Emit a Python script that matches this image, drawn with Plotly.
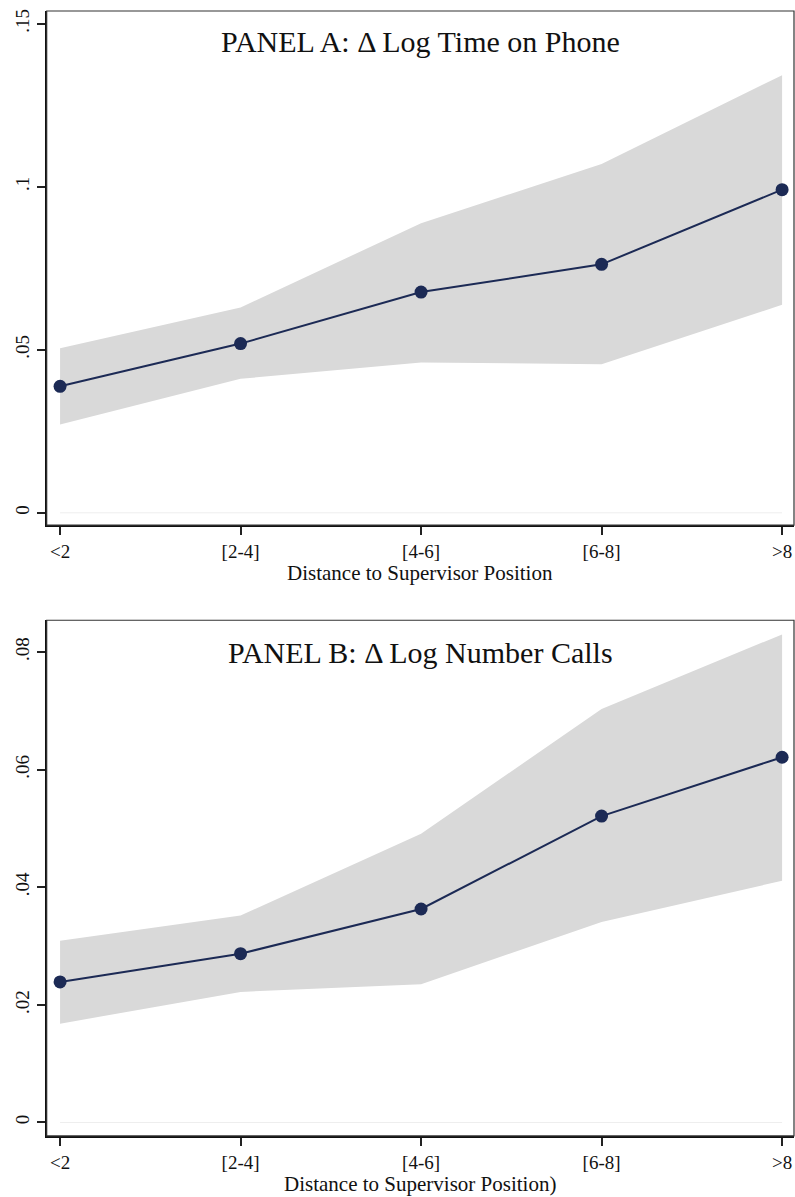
import plotly.graph_objects as go

categories = ["<2", "[2-4]", "[4-6]", "[6-8]", ">8"]

# Panel A: Delta log time on phone
a_est = [0.0388, 0.0519, 0.0677, 0.0762, 0.0991]
a_hi = [0.0505, 0.0630, 0.0888, 0.1070, 0.1342]
a_lo = [0.0271, 0.0411, 0.0461, 0.0456, 0.0638]
a_ticks = [0, 0.05, 0.1, 0.15]
a_ticktext = ["0", ".05", ".1", ".15"]

# Panel B: Delta log number calls
b_est = [0.0239, 0.0287, 0.0363, 0.0521, 0.0621]
b_hi = [0.0309, 0.0352, 0.0491, 0.0703, 0.0830]
b_lo = [0.0168, 0.0222, 0.0235, 0.0341, 0.0411]
b_ticks = [0, 0.02, 0.04, 0.06, 0.08]
b_ticktext = ["0", ".02", ".04", ".06", ".08"]

W, H = 795, 1197
FONT = "Liberation Serif"
NAVY = "#1c2a55"
BAND = "#d9d9d9"
x_idx = list(range(len(categories)))

fig = go.Figure()

def add_panel(est, hi, lo, xa, ya):
    fig.add_trace(go.Scatter(x=x_idx, y=hi, mode="lines", line=dict(width=0, color=BAND),
                             xaxis=xa, yaxis=ya, showlegend=False, hoverinfo="skip"))
    fig.add_trace(go.Scatter(x=x_idx, y=lo, mode="lines", line=dict(width=0, color=BAND),
                             fill="tonexty", fillcolor=BAND,
                             xaxis=xa, yaxis=ya, showlegend=False, hoverinfo="skip"))
    fig.add_trace(go.Scatter(x=x_idx, y=est, mode="lines+markers",
                             line=dict(width=2, color=NAVY),
                             marker=dict(size=13, color=NAVY),
                             xaxis=xa, yaxis=ya, showlegend=False))

add_panel(a_est, a_hi, a_lo, "x", "y")
add_panel(b_est, b_hi, b_lo, "x2", "y2")

xdom = [46.7 / W, 794 / W]
ydomA = [1 - 524 / H, 1 - 9 / H]
ydomB = [1 - 1135.7 / H, 1 - 619.3 / H]

xcommon = dict(domain=xdom, range=[-0.074, 4.066], tickmode="array", tickvals=x_idx,
               ticktext=categories, ticks="outside", ticklen=8, tickwidth=1.5,
               tickcolor="#222", showline=True, linecolor="#111", linewidth=2,
               showgrid=False, zeroline=False,
               tickfont=dict(family=FONT, size=19, color="#111"))
ycommon = dict(ticks="outside", ticklen=8, tickwidth=1.5, tickcolor="#222",
               showline=True, linecolor="#111", linewidth=2, showgrid=False,
               zeroline=False, tickangle=-90,
               tickfont=dict(family=FONT, size=19, color="#111"))

fig.update_layout(
    width=W, height=H, margin=dict(l=0, r=0, t=0, b=0),
    paper_bgcolor="white", plot_bgcolor="white",
    xaxis=dict(anchor="y", **xcommon),
    xaxis2=dict(anchor="y2", **xcommon),
    yaxis=dict(domain=ydomA, anchor="x", range=[-0.00377, 0.1539],
               tickmode="array", tickvals=a_ticks, ticktext=a_ticktext, **ycommon),
    yaxis2=dict(domain=ydomB, anchor="x2", range=[-0.00227, 0.0854],
                tickmode="array", tickvals=b_ticks, ticktext=b_ticktext, **ycommon),
)

# frames and zero gridlines
for xr, yr in [("x", "y"), ("x2", "y2")]:
    fig.add_shape(type="rect", xref=f"{xr} domain", yref=f"{yr} domain",
                  x0=0, x1=1, y0=0, y1=1, line=dict(color="#333", width=1.2), layer="above")
    fig.add_shape(type="line", xref=xr, yref=yr, x0=0, x1=4, y0=0, y1=0,
                  line=dict(color="#eeeeee", width=1), layer="below")

# titles
fig.add_annotation(text="PANEL A: Δ Log Time on Phone", xref="paper", yref="paper",
                   x=(xdom[0] + xdom[1]) / 2, y=1 - 40 / H, showarrow=False,
                   xanchor="center", yanchor="middle",
                   font=dict(family=FONT, size=30, color="#111"))
fig.add_annotation(text="PANEL B: Δ Log Number Calls", xref="paper", yref="paper",
                   x=(xdom[0] + xdom[1]) / 2, y=1 - 652 / H, showarrow=False,
                   xanchor="center", yanchor="middle",
                   font=dict(family=FONT, size=30, color="#111"))
fig.add_annotation(text="Distance to Supervisor Position", xref="paper", yref="paper",
                   x=(xdom[0] + xdom[1]) / 2, y=1 - 572 / H, showarrow=False,
                   xanchor="center", yanchor="middle",
                   font=dict(family=FONT, size=21, color="#111"))
fig.add_annotation(text="Distance to Supervisor Position)", xref="paper", yref="paper",
                   x=(xdom[0] + xdom[1]) / 2, y=1 - 1184 / H, showarrow=False,
                   xanchor="center", yanchor="middle",
                   font=dict(family=FONT, size=21, color="#111"))

fig.write_html("out.html", config={"displayModeBar": False},
               post_script="document.body.style.margin='0';document.body.style.overflow='hidden';")
